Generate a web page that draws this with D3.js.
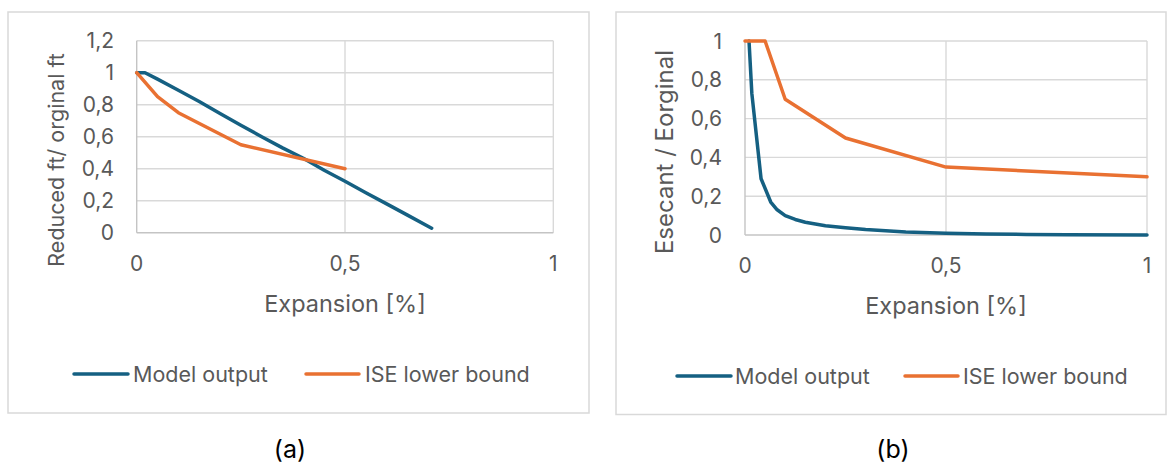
<!DOCTYPE html>
<html>
<head>
<meta charset="utf-8">
<script src="https://cdn.jsdelivr.net/npm/d3@7"></script>
<style>
  body { margin: 0; background: #fff; }
  text { font-family: Inter, "Open Sans", sans-serif; fill: #595959; }
</style>
</head>
<body>
<svg width="1174" height="464"></svg>
<script>
// (a) reduced tensile strength
const expansionA = [0, 0.02, 0.05, 0.1, 0.15, 0.2, 0.25, 0.3, 0.35, 0.4, 0.45, 0.5, 0.55, 0.6, 0.65, 0.708];
const modelA = [1, 1, 0.96, 0.89, 0.82, 0.745, 0.672, 0.6, 0.53, 0.465, 0.39, 0.322, 0.25, 0.18, 0.11, 0.028];
const iseExpansionA = [0, 0.05, 0.1, 0.25, 0.5];
const iseA = [1, 0.85, 0.75, 0.55, 0.4];

// (b) secant modulus
const expansionB = [0.01, 0.017, 0.04, 0.064, 0.08, 0.1, 0.125, 0.15, 0.2, 0.25, 0.3, 0.4, 0.5, 0.6, 0.7, 0.8, 1];
const modelB = [1, 0.73, 0.29, 0.17, 0.13, 0.1, 0.08, 0.066, 0.048, 0.037, 0.028, 0.016, 0.009, 0.005, 0.003, 0.001, 0];
const iseExpansionB = [0, 0.05, 0.1, 0.25, 0.5, 1];
const iseB = [1, 1, 0.7, 0.5, 0.35, 0.3];

const xTicks = [0, 0.5, 1];
const yTicksA = [0, 0.2, 0.4, 0.6, 0.8, 1, 1.2];
const yTicksB = [0, 0.2, 0.4, 0.6, 0.8, 1];
const seriesNames = ["Model output", "ISE lower bound"];
const colors = ["#156082", "#e97132"];

const svg = d3.select("svg");
const locale = d3.formatLocale({ decimal: ",", thousands: ".", grouping: [3], currency: ["", ""] });
const fmt = locale.format("~g");

function drawChart(c) {
  const g = svg.append("g");

  g.append("rect")
    .attr("x", c.frame[0]).attr("y", c.frame[1])
    .attr("width", c.frame[2]).attr("height", c.frame[3])
    .attr("fill", "#fff").attr("stroke", "#d9d9d9").attr("stroke-width", 1.5);

  const x = d3.scaleLinear().domain([0, 1]).range([c.left, c.right]);
  const y = d3.scaleLinear().domain([0, c.yMax]).range([c.bottom, c.top]);

  // gridlines
  g.selectAll(".hgrid")
    .data(c.yTicks.filter(d => d > 0))
    .enter().append("line")
    .attr("x1", c.left).attr("x2", c.right)
    .attr("y1", d => y(d)).attr("y2", d => y(d))
    .attr("stroke", "#d9d9d9").attr("stroke-width", 1.4);
  g.selectAll(".vgrid")
    .data(xTicks.filter(d => d > 0))
    .enter().append("line")
    .attr("x1", d => x(d)).attr("x2", d => x(d))
    .attr("y1", c.top).attr("y2", c.bottom)
    .attr("stroke", "#d9d9d9").attr("stroke-width", 1.4);

  // axis lines
  g.append("line")
    .attr("x1", c.left).attr("x2", c.right)
    .attr("y1", c.bottom).attr("y2", c.bottom)
    .attr("stroke", "#c4c4c4").attr("stroke-width", 1.4);
  g.append("line")
    .attr("x1", c.left).attr("x2", c.left)
    .attr("y1", c.top).attr("y2", c.bottom)
    .attr("stroke", "#c4c4c4").attr("stroke-width", 1.4);

  // tick labels
  g.selectAll(".ylab")
    .data(c.yTicks)
    .enter().append("text")
    .attr("x", c.yLabelX)
    .attr("y", d => y(d))
    .attr("dy", "0.36em")
    .attr("text-anchor", "end")
    .style("font-size", "21px")
    .text(fmt);
  g.selectAll(".xlab")
    .data(xTicks)
    .enter().append("text")
    .attr("x", d => x(d))
    .attr("y", c.xLabelY)
    .attr("text-anchor", "middle")
    .style("font-size", "21px")
    .text(fmt);

  // axis titles
  g.append("text")
    .attr("x", (c.left + c.right) / 2)
    .attr("y", c.xTitleY)
    .attr("text-anchor", "middle")
    .style("font-size", "23.5px")
    .text("Expansion [%]");
  g.append("text")
    .attr("transform", "translate(" + c.yTitle[0] + "," + c.yTitle[1] + ") rotate(-90)")
    .attr("text-anchor", "middle")
    .style("font-size", c.yTitleSize)
    .text(c.yTitleText);

  // lines
  const line = d3.line().x(d => x(d[0])).y(d => y(d[1]));
  c.series.forEach(function (s, i) {
    g.append("path")
      .datum(d3.zip(s[0], s[1]))
      .attr("fill", "none")
      .attr("stroke", colors[i])
      .attr("stroke-width", 3.5)
      .attr("stroke-linejoin", "round")
      .attr("stroke-linecap", "round")
      .attr("d", line);
  });

  // legend
  c.legend.forEach(function (l, i) {
    g.append("line")
      .attr("x1", l[0]).attr("x2", l[1])
      .attr("y1", c.legendY).attr("y2", c.legendY)
      .attr("stroke", colors[i]).attr("stroke-width", 3.5)
      .attr("stroke-linecap", "round");
    g.append("text")
      .attr("x", l[2]).attr("y", c.legendY)
      .attr("dy", "0.36em")
      .style("font-size", "21.5px")
      .text(seriesNames[i]);
  });

  svg.append("text")
    .attr("x", c.caption[0]).attr("y", c.caption[1])
    .attr("text-anchor", "middle")
    .style("font-size", "25px")
    .style("fill", "#000")
    .text(c.captionText);
}

drawChart({
  frame: [8, 12, 581, 401],
  left: 136.7, right: 553.3, top: 40.7, bottom: 232.7,
  yMax: 1.2, yTicks: yTicksA,
  yLabelX: 114, xLabelY: 271, xTitleY: 312,
  yTitle: [64, 160], yTitleText: "Reduced ft/ orginal ft", yTitleSize: "21.5px",
  series: [[expansionA, modelA], [iseExpansionA, iseA]],
  legendY: 374, legend: [[74, 128, 133], [306, 359, 365]],
  caption: [290, 458], captionText: "(a)"
});

drawChart({
  frame: [616, 12, 550, 402.5],
  left: 745, right: 1147, top: 41, bottom: 235,
  yMax: 1, yTicks: yTicksB,
  yLabelX: 722, xLabelY: 273, xTitleY: 314,
  yTitle: [673, 152], yTitleText: "Esecant / Eorginal", yTitleSize: "24px",
  series: [[expansionB, modelB], [iseExpansionB, iseB]],
  legendY: 376, legend: [[677, 731, 735], [905, 958, 963]],
  caption: [893, 458], captionText: "(b)"
});
</script>
</body>
</html>
